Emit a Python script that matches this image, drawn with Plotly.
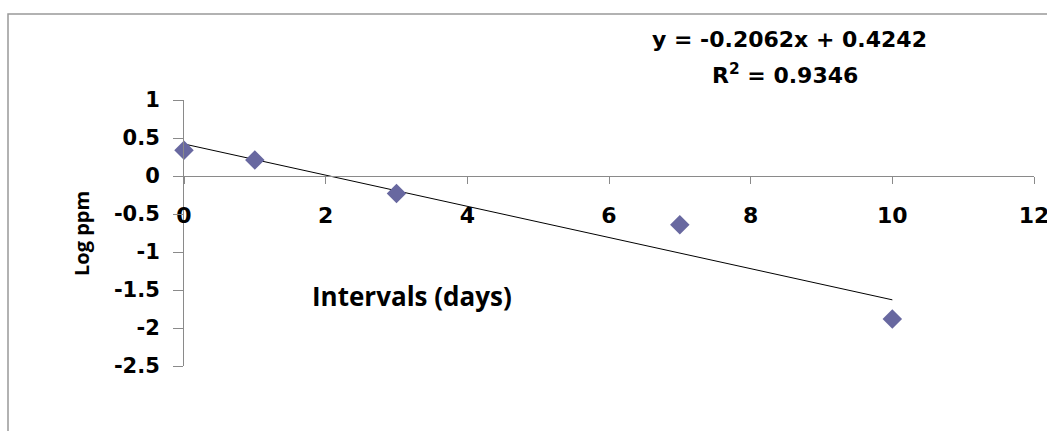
import numpy as np
import plotly.graph_objects as go

days = [0, 1, 3, 7, 10]
log_ppm = [0.34, 0.21, -0.23, -0.64, -1.88]
x_ticks = [0, 2, 4, 6, 8, 10, 12]
y_ticks = [1, 0.5, 0, -0.5, -1, -1.5, -2, -2.5]
eq_text = "y = -0.2062x + 0.4242"
r2_text = "R<sup>2</sup> = 0.9346"

slope, intercept = np.polyfit(days, log_ppm, 1)
trend_x = [min(days), max(days)]
trend_y = [slope * v + intercept for v in trend_x]

fig = go.Figure()
fig.add_trace(go.Scatter(x=trend_x, y=trend_y, mode="lines",
                         line=dict(color="black", width=1), showlegend=False,
                         cliponaxis=False))
fig.add_trace(go.Scatter(x=days, y=log_ppm, mode="markers",
                         marker=dict(symbol="diamond", size=15, color="#6868A0",
                                     line=dict(width=0)), showlegend=False,
                         cliponaxis=False))

ymin, ymax = -2.5, 1
xfont = dict(family="DejaVu Sans", size=22, color="black", weight="bold")
yfont = dict(family="DejaVu Sans", size=21, color="black", weight="bold")

fig.update_layout(
    width=1047, height=431,
    margin=dict(l=184, r=13, t=100, b=65, autoexpand=False),
    paper_bgcolor="white", plot_bgcolor="white",
    xaxis=dict(range=[0, 12], tickvals=x_ticks, ticktext=[str(v) for v in x_ticks],
               showgrid=False, zeroline=False, showline=True, linecolor="#8a8a8a",
               linewidth=1, ticks="outside", ticklen=7, tickcolor="#8a8a8a",
               anchor="free", position=(0 - ymin) / (ymax - ymin),
               ticklabelstandoff=13, tickfont=xfont, automargin=False,
               ticklabeloverflow="allow"),
    yaxis=dict(range=[ymin, ymax], tickvals=y_ticks, ticktext=[str(v) for v in y_ticks],
               showgrid=False, zeroline=False, showline=True, linecolor="#8a8a8a",
               linewidth=1, ticks="outside", ticklen=10, tickcolor="#8a8a8a",
               ticklabelstandoff=9, tickfont=yfont, automargin=False,
               ticklabeloverflow="allow"),
    shapes=[dict(type="rect", xref="paper", yref="paper",
                 x0=(8 - 184) / 850, x1=1.2, y0=-0.5, y1=(366 - 14) / 266,
                 line=dict(color="#999999", width=1.5), layer="below")],
    annotations=[
        dict(text=eq_text, xref="paper", yref="paper", x=(789 - 184) / 850,
             y=(366 - 40) / 266, showarrow=False, xanchor="center", yanchor="middle",
             font=dict(family="DejaVu Sans", size=22, color="black", weight="bold")),
        dict(text=r2_text, xref="paper", yref="paper", x=(785 - 184) / 850,
             y=(366 - 74) / 266, showarrow=False, xanchor="center", yanchor="middle",
             font=dict(family="DejaVu Sans", size=22, color="black", weight="bold")),
        dict(text="Intervals (days)", xref="paper", yref="paper", x=(412 - 184) / 850,
             y=(366 - 296) / 266, showarrow=False, xanchor="center", yanchor="middle",
             font=dict(family="Open Sans", size=26, color="black", weight="bold")),
        dict(text="Log ppm", xref="paper", yref="paper", x=(81 - 184) / 850,
             y=(366 - 234) / 266, showarrow=False, xanchor="center", yanchor="middle",
             textangle=-90,
             font=dict(family="Open Sans", size=20, color="black", weight="bold")),
    ],
)

fig.write_html("out.html", config={"displayModeBar": False},
               post_script="document.body.style.margin='0';")
